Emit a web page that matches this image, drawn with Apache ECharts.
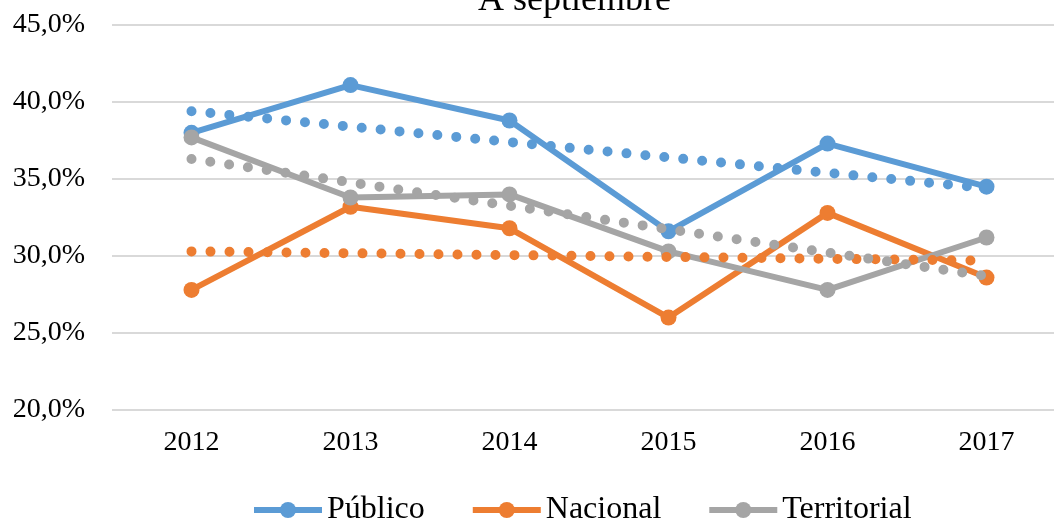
<!DOCTYPE html>
<html>
<head>
<meta charset="utf-8">
<script src="https://cdn.jsdelivr.net/npm/echarts@6/dist/echarts.min.js"></script>
<style>
  html, body { margin: 0; padding: 0; background: #fff; }
  #chart { width: 1054px; height: 522px; }
</style>
</head>
<body>
<div id="chart"></div>
<script>
const years = ['2012', '2013', '2014', '2015', '2016', '2017'];
const publico = [38.0, 41.1, 38.8, 31.6, 37.3, 34.5];
const nacional = [27.8, 33.2, 31.8, 26.0, 32.8, 28.6];
const territorial = [37.7, 33.8, 34.0, 30.3, 27.8, 31.2];
// linear trend lines, start and end values
const trendPublico = [39.4, 34.4];
const trendNacional = [30.3, 29.7];
const trendTerritorial = [36.3, 28.7];

const font = '"Liberation Serif", "Times New Roman", serif';
const blue = '#5B9BD5', orange = '#ED7D31', gray = '#A5A5A5';

const mainSeries = (name, data, color) => ({
    name: name,
    type: 'line',
    data: data,
    symbol: 'circle',
    symbolSize: 16,
    itemStyle: { color: color },
    lineStyle: { color: color, width: 6 },
    z: 2
});
const trendSeries = (name, ends, color) => ({
    name: name,
    type: 'line',
    data: [[0, ends[0]], [years.length - 1, ends[1]]],
    symbol: 'none',
    silent: true,
    lineStyle: { color: color, width: 10, type: [0, 19], cap: 'round' },
    z: 3
});

var myChart = echarts.init(document.getElementById('chart'));
const option = {
    animation: false,
    title: {
        text: 'A septiembre',
        left: 473,
        top: -22,
        textStyle: { fontFamily: font, fontSize: 36, fontWeight: 'normal', color: '#000' }
    },
    legend: {
        data: ['Público', 'Nacional', 'Territorial'],
        bottom: -9,
        left: 246,
        itemWidth: 68,
        itemHeight: 20,
        itemGap: 45,
        lineStyle: { width: 6 },
        textStyle: { fontFamily: font, fontSize: 32, color: '#000' }
    },
    grid: { left: 112, width: 954, top: 25, bottom: 112, containLabel: false, outerBoundsMode: 'none' },
    xAxis: {
        type: 'category',
        data: years,
        boundaryGap: true,
        axisLine: { show: false },
        axisTick: { show: false },
        axisLabel: { fontFamily: font, fontSize: 28, color: '#000', margin: 19 }
    },
    yAxis: {
        type: 'value',
        min: 20,
        max: 45,
        interval: 5,
        axisLine: { show: false },
        axisTick: { show: false },
        splitLine: { lineStyle: { color: '#D9D9D9', width: 2 } },
        axisLabel: {
            fontFamily: font, fontSize: 28, color: '#000', margin: 27,
            formatter: v => v.toFixed(1).replace('.', ',') + '%'
        }
    },
    series: [
        mainSeries('Público', publico, blue),
        mainSeries('Nacional', nacional, orange),
        mainSeries('Territorial', territorial, gray),
        trendSeries('trendPublico', trendPublico, blue),
        trendSeries('trendNacional', trendNacional, orange),
        trendSeries('trendTerritorial', trendTerritorial, gray)
    ]
};
myChart.setOption(option);
</script>
</body>
</html>
